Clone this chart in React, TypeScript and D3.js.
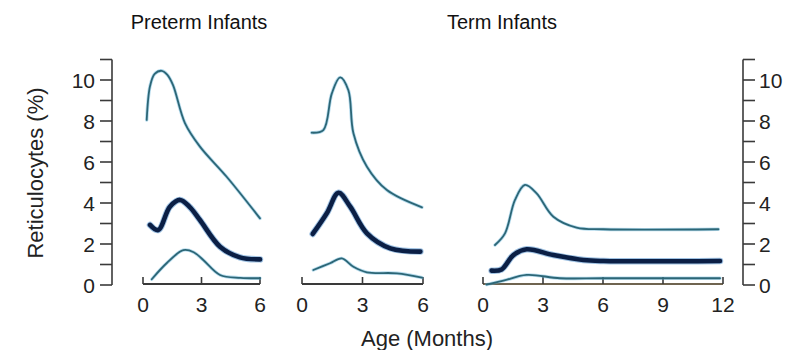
import React, { useEffect, useRef } from "react"
import * as d3 from "d3"

// [month, reticulocytes %]
const pretermAUpper = [[0.19, 8.05], [0.36, 9.7], [0.6, 10.3], [0.96, 10.45], [1.25, 10.25], [1.54, 9.75], [2.15, 7.9], [2.92, 6.75], [4.29, 5.28], [6, 3.25]]
const pretermAMean = [[0.36, 2.93], [0.78, 2.68], [1.38, 3.82], [1.9, 4.15], [2.4, 3.8], [2.92, 3.17], [3.95, 1.87], [4.97, 1.35], [6, 1.25]]
const pretermALower = [[0.45, 0.28], [1.21, 1.06], [2.07, 1.7], [2.6, 1.6], [3.09, 1.22], [3.95, 0.49], [5, 0.35], [6, 0.33]]

const pretermBUpper = [[0.48, 7.43], [1.06, 7.56], [1.48, 9.35], [1.89, 10.13], [2.3, 9.5], [2.55, 7.4], [3.22, 5.77], [4.21, 4.63], [5.95, 3.79]]
const pretermBMean = [[0.53, 2.49], [1.23, 3.5], [1.81, 4.5], [2.39, 3.82], [3.22, 2.52], [4.38, 1.79], [5.87, 1.63]]
const pretermBLower = [[0.56, 0.73], [1.39, 1.06], [1.97, 1.3], [2.55, 0.89], [3.22, 0.62], [4.71, 0.57], [5.95, 0.36]]

const termUpper = [[0.6, 1.95], [1.1, 2.52], [1.6, 4.15], [2.1, 4.88], [2.68, 4.47], [3.52, 3.33], [4.68, 2.8], [6.02, 2.72], [11.77, 2.72]]
const termMean = [[0.43, 0.7], [0.93, 0.76], [1.52, 1.46], [2.18, 1.74], [3.52, 1.46], [5.02, 1.22], [6.02, 1.17], [11.85, 1.17]]
const termLower = [[0.18, 0.02], [1.02, 0.21], [2.18, 0.49], [3.85, 0.33], [6.02, 0.33], [11.85, 0.33]]

const yTicks = [0, 1, 2, 3, 4, 5, 6, 7, 8, 9, 10, 11]
const yLabels = [0, 2, 4, 6, 8, 10]
const shortTicks = [0, 3, 6]
const longTicks = [0, 3, 6, 9, 12]

const titles = ["Preterm Infants", "Term Infants"]

const font = "'Liberation Sans', Arial, Helvetica, sans-serif"
const axisColor = "#3a3a3a"

export default function App() {
  const ref = useRef<SVGSVGElement>(null)

  useEffect(() => {
    const svg = d3.select(ref.current)
    svg.selectAll("*").remove()

    const y = d3.scaleLinear().domain([0, 11]).range([285, 59.5])

    const panels = [
      { x: d3.scaleLinear().domain([0, 6]).range([143, 260]), ticks: shortTicks, curves: [pretermAUpper, pretermAMean, pretermALower], axis: axisColor },
      { x: d3.scaleLinear().domain([0, 6]).range([302, 423]), ticks: shortTicks, curves: [pretermBUpper, pretermBMean, pretermBLower], axis: axisColor },
      { x: d3.scaleLinear().domain([0, 12]).range([483, 723]), ticks: longTicks, curves: [termUpper, termMean, termLower], axis: "#6f6450" }
    ]

    // left y axis
    const left = svg.append("g")
    left.append("line").attr("x1", 112).attr("x2", 112).attr("y1", y(0)).attr("y2", y(11))
      .attr("stroke", axisColor).attr("stroke-width", 1.6)
    left.selectAll(".t").data(yTicks).enter().append("line")
      .attr("x1", 100).attr("x2", 112).attr("y1", d => y(d)).attr("y2", d => y(d))
      .attr("stroke", axisColor).attr("stroke-width", 1.6)
    left.selectAll("text").data(yLabels).enter().append("text")
      .attr("x", 95).attr("y", d => y(d)).attr("dy", "0.36em")
      .attr("text-anchor", "end").attr("font-size", 21).attr("font-family", font).attr("fill", "#222")
      .text(d => d)

    // right y axis
    const right = svg.append("g")
    right.append("line").attr("x1", 743).attr("x2", 743).attr("y1", y(0)).attr("y2", y(11))
      .attr("stroke", axisColor).attr("stroke-width", 1.6)
    right.selectAll(".t").data(yTicks).enter().append("line")
      .attr("x1", 743).attr("x2", 755).attr("y1", d => y(d)).attr("y2", d => y(d))
      .attr("stroke", axisColor).attr("stroke-width", 1.6)
    right.selectAll("text").data(yLabels).enter().append("text")
      .attr("x", 759).attr("y", d => y(d)).attr("dy", "0.36em")
      .attr("text-anchor", "start").attr("font-size", 21).attr("font-family", font).attr("fill", "#222")
      .text(d => d)

    panels.forEach(p => {
      const g = svg.append("g")
      const [x0, x1] = p.x.range()
      g.append("line").attr("x1", x0).attr("x2", x1).attr("y1", 284).attr("y2", 284)
        .attr("stroke", p.axis).attr("stroke-width", 1.8)
      g.selectAll(".t").data(p.ticks).enter().append("line")
        .attr("x1", d => p.x(d)).attr("x2", d => p.x(d)).attr("y1", 284).attr("y2", 277)
        .attr("stroke", axisColor).attr("stroke-width", 1.6)
      g.selectAll("text").data(p.ticks).enter().append("text")
        .attr("x", d => p.x(d)).attr("y", 312)
        .attr("text-anchor", "middle").attr("font-size", 21).attr("font-family", font).attr("fill", "#222")
        .text(d => d)

      const line = d3.line<number[]>()
        .x(d => p.x(d[0]))
        .y(d => y(d[1]))
        .curve(d3.curveCatmullRom.alpha(0.5))

      p.curves.forEach((c, i) => {
        const thick = i === 1
        g.append("path").attr("d", line(c)).attr("fill", "none")
          .attr("stroke", thick ? "#2a78c0" : "#5ab0d8").attr("stroke-opacity", 0.45)
          .attr("stroke-width", thick ? 6.5 : 3.4).attr("stroke-linecap", "round")
        g.append("path").attr("d", line(c)).attr("fill", "none")
          .attr("stroke", thick ? "#0b1f45" : "#2c6676")
          .attr("stroke-width", thick ? 4.6 : 1.8).attr("stroke-linecap", "round")
      })
    })

    // titles
    svg.selectAll(".title").data(titles).enter().append("text")
      .attr("x", (d, i) => (i === 0 ? 199 : 502)).attr("y", 29)
      .attr("text-anchor", "middle").attr("font-size", 20).attr("font-family", font).attr("fill", "#111")
      .text(d => d)

    svg.append("text")
      .attr("transform", "translate(43,173) rotate(-90)")
      .attr("text-anchor", "middle").attr("font-size", 22).attr("font-family", font).attr("fill", "#222")
      .text("Reticulocytes (%)")

    svg.append("text")
      .attr("x", 427).attr("y", 346)
      .attr("text-anchor", "middle").attr("font-size", 22).attr("font-family", font).attr("fill", "#222")
      .text("Age (Months)")
  }, [])

  return (
    <svg ref={ref} width={799} height={350}
      style={{ position: "absolute", left: 0, top: 0, background: "#fff" }} />
  )
}
